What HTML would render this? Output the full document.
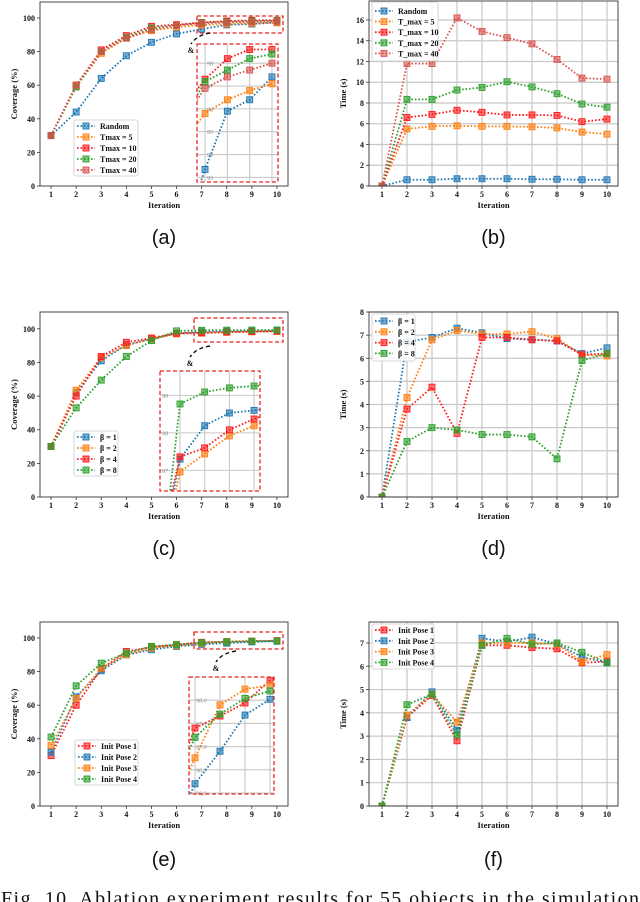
<!DOCTYPE html>
<html><head><meta charset="utf-8"><style>
html,body{margin:0;padding:0;background:#fff;width:640px;height:902px;overflow:hidden}
svg{display:block}
text{font-family:"Liberation Serif",serif}
text.sans{font-family:"Liberation Sans",sans-serif}
</style></head><body>
<svg id="fig" width="640" height="902" viewBox="0 0 640 902" xmlns="http://www.w3.org/2000/svg" style="overflow:hidden"></svg>
<script>
// ---------- data ----------
const iters = [1,2,3,4,5,6,7,8,9,10];
// (a) coverage vs Tmax
const aNames = ["Random","Tmax = 5","Tmax = 10","Tmax = 20","Tmax = 40"];
const aRandom = [30,44,64,77.5,85.5,90.5,93.35,95.9,96.4,97.4];
const aT5 = [30,59,79,88,92.5,94.5,95.8,96.4,96.8,97.1];
const aT10 = [30,60,81,89.5,95,96,97.3,98.2,98.6,98.6];
const aT20 = [30,59,80,88.5,94,95.5,97.2,97.7,98.2,98.4];
const aT40 = [30,60,80,88,93,95.5,96.9,97.4,97.7,98.0];
// (b) time vs Tmax
const bNames = ["Random","T_max = 5","T_max = 10","T_max = 20","T_max = 40"];
const bRandom = [0,0.6,0.6,0.7,0.7,0.7,0.65,0.65,0.6,0.6];
const bT5 = [0,5.5,5.75,5.8,5.75,5.75,5.7,5.6,5.2,5.0];
const bT10 = [0,6.6,6.9,7.3,7.1,6.85,6.85,6.8,6.2,6.45];
const bT20 = [0,8.35,8.35,9.25,9.5,10.05,9.55,8.9,7.9,7.6];
const bT40 = [0,11.8,11.8,16.2,14.9,14.3,13.7,12.2,10.4,10.3];
// (c) coverage vs beta
const cNames = ["β = 1","β = 2","β = 4","β = 8"];
const cB1 = [30,62,81,90.5,94,97.3,98.19,98.53,98.6,98.7];
const cB2 = [30,63.5,83,90,94,96.96,97.44,97.92,98.19,98.4];
const cB4 = [30,60,83.5,92,94.5,97.36,97.6,98.08,98.37,98.6];
const cB8 = [30,53,69.5,83.5,93,98.77,99.09,99.2,99.25,99.3];
// (d) time vs beta
const dNames = ["β = 1","β = 2","β = 4","β = 8"];
const dB1 = [0,6.7,6.9,7.3,7.1,6.85,6.8,6.75,6.2,6.45];
const dB2 = [0,4.3,6.8,7.2,7.05,7.05,7.15,6.85,6.15,6.1];
const dB4 = [0,3.8,4.75,2.75,6.9,6.9,6.8,6.75,6.15,6.2];
const dB8 = [0,2.4,3.0,2.9,2.7,2.7,2.6,1.65,5.9,6.2];
// (e) coverage vs init pose
const eNames = ["Init Pose 1","Init Pose 2","Init Pose 3","Init Pose 4"];
const eP1 = [30,60,81.5,92,94.5,96,97.4,97.66,97.94,98.43];
const eP2 = [32,65,80.5,90,93,95,96.2,96.9,97.68,98.02];
const eP3 = [36,64,82,90,94,95.5,96.76,97.9,98.24,98.32];
const eP4 = [41,71.5,85,91,95,96,97.2,97.7,98.04,98.2];
// (f) time vs init pose
const fNames = ["Init Pose 1","Init Pose 2","Init Pose 3","Init Pose 4"];
const fP1 = [0,3.8,4.75,2.8,6.9,6.9,6.8,6.75,6.15,6.2];
const fP2 = [0,3.8,4.9,3.25,7.2,7.05,7.25,6.95,6.4,6.15];
const fP3 = [0,3.9,4.8,3.6,7.0,7.0,7.0,6.95,6.2,6.5];
const fP4 = [0,4.35,4.8,3.05,6.9,7.2,6.95,7.0,6.6,6.15];
const covTicks = [0,20,40,60,80,100];
const bTicks = [0,2,4,6,8,10,12,14,16];
const dTicks = [0,1,2,3,4,5,6,7,8];
const fTicks = [0,1,2,3,4,5,6,7];
const aInsetTicks = [93,94,95,96,97,98];
const cInsetTicks = [97,98,99];
const eInsetTicks = [96.0,96.5,97.0,97.5,98.0];

const BLUE="#1f77b4",ORANGE="#ff7f0e",RED="#ff1a1a",GREEN="#2ca02c",IRED="#d9534f";
const NS="http://www.w3.org/2000/svg";
const svg=document.getElementById('fig');
function mk(tag,attrs,parent){const e=document.createElementNS(NS,tag);for(const k in attrs)e.setAttribute(k,attrs[k]);(parent||svg).appendChild(e);return e;}
let clipId=0;

function drawSeries(g,xs,ys,vals,color,name,ms){
  const pts=iters.map((it,i)=>xs(it)+","+ys(vals[i])).join(" ");
  const pl=mk('polyline',{points:pts,fill:"none",stroke:color,"stroke-width":1.8,"stroke-dasharray":"1.6 1.9"},g);
  
  
  iters.forEach((it,i)=>{
    const r=mk('rect',{x:xs(it)-ms/2,y:ys(vals[i])-ms/2,width:ms,height:ms,fill:color,"fill-opacity":0.6,stroke:color,"stroke-width":0.9},g);
    
    
  });
}

function panel(c){
  const g=mk('g',{});
  
  
  const xs=v=>c.px0+(v-c.xmin)/(c.xmax-c.xmin)*(c.px1-c.px0);
  const ys=v=>c.py1-(v-c.ymin)/(c.ymax-c.ymin)*(c.py1-c.py0);
  if(c.grid){
    iters.forEach(it=>{const l=mk('line',{x1:xs(it),x2:xs(it),y1:c.py0,y2:c.py1,stroke:"#c8c8c8","stroke-width":1.2},g);
      });
    c.yticks.forEach(t=>{const l=mk('line',{x1:c.px0,x2:c.px1,y1:ys(t),y2:ys(t),stroke:"#c8c8c8","stroke-width":1.2},g);
      });
  }
  const cid='clip'+(clipId++);
  const cp=mk('clipPath',{id:cid},g);
  mk('rect',{x:c.px0,y:c.py0,width:c.px1-c.px0,height:c.py1-c.py0},cp);
  const sg=mk('g',{"clip-path":"url(#"+cid+")"},g);
  
  
  c.series.forEach(s=>drawSeries(sg,xs,ys,s.vals,s.color,s.key,6));
  const fr=mk('rect',{x:c.px0,y:c.py0,width:c.px1-c.px0,height:c.py1-c.py0,fill:"none",stroke:"#333","stroke-width":0.9},g);
  
  
  iters.forEach(it=>{
    mk('line',{x1:xs(it),x2:xs(it),y1:c.py1,y2:c.py1+3,stroke:"#333","stroke-width":0.8},g);
    const t=mk('text',{x:xs(it),y:c.py1+11,"font-size":8,"font-weight":"bold","text-anchor":"middle",fill:"#111"},g);
    t.textContent=it;
    
    
  });
  c.yticks.forEach(v=>{
    mk('line',{x1:c.px0-3,x2:c.px0,y1:ys(v),y2:ys(v),stroke:"#333","stroke-width":0.8},g);
    const t=mk('text',{x:c.px0-5,y:ys(v)+3,"font-size":8,"font-weight":"bold","text-anchor":"end",fill:"#111"},g);
    t.textContent=v;
    
    
  });
  const xl=mk('text',{x:(c.px0+c.px1)/2,y:c.py1+22,"font-size":8.5,"font-weight":"bold","text-anchor":"middle",fill:"#111"},g);
  xl.textContent="Iteration";
  
  
  const yx=c.px0-23, yy=(c.py0+c.py1)/2;
  const yl=mk('text',{x:yx,y:yy,"font-size":8.5,"font-weight":"bold","text-anchor":"middle",fill:"#111",transform:"rotate(-90 "+yx+" "+yy+")"},g);
  yl.textContent=c.ylabel;
  
  
  if(c.inset){
    const I=c.inset;
    const ig=mk('g',{},g);
    
    
    const ixs=v=>I.x0+(v-I.xmin)/(I.xmax-I.xmin)*(I.x1-I.x0);
    const iys=v=>I.y1-(v-I.ymin)/(I.ymax-I.ymin)*(I.y1-I.y0);
    mk('rect',{x:I.x0,y:I.y0,width:I.x1-I.x0,height:I.y1-I.y0,fill:"#fff"},ig);
    iters.forEach(it=>{if(it>I.xmin&&it<I.xmax){mk('line',{x1:ixs(it),x2:ixs(it),y1:I.y0,y2:I.y1,stroke:"#c8c8c8","stroke-width":1.1},ig);}});
    I.ticks.forEach(v=>{
      mk('line',{x1:I.x0,x2:I.x1,y1:iys(v),y2:iys(v),stroke:"#c8c8c8","stroke-width":1.1},ig);
      const t=mk('text',{x:I.labelX,y:iys(v)+2.5,"font-size":6,fill:"#888","font-style":"italic"},ig);
      t.textContent=I.fmt?v.toFixed(1):v;
      
      
    });
    const icid='clip'+(clipId++);
    const icp=mk('clipPath',{id:icid},ig);
    mk('rect',{x:I.x0,y:I.y0,width:I.x1-I.x0,height:I.y1-I.y0},icp);
    const isg=mk('g',{"clip-path":"url(#"+icid+")"},ig);
    
    
    c.series.forEach(s=>drawSeries(isg,ixs,iys,s.vals,s.color,'inset-'+s.key,6));
    const ib=mk('rect',{x:I.x0,y:I.y0,width:I.x1-I.x0,height:I.y1-I.y0,fill:"none",stroke:"#ee2222","stroke-width":1.3,"stroke-dasharray":"4 2.5"},ig);
    
    
    const sb=mk('rect',{x:I.sx0,y:I.sy0,width:I.sx1-I.sx0,height:I.sy1-I.sy0,fill:"none",stroke:"#ee2222","stroke-width":1.3,"stroke-dasharray":"4 2.5"},g);
    
    
    const ar=mk('path',{d:"M"+I.ax0+" "+I.ay0+" Q"+(I.ax1+6)+" "+(I.ay0+2)+" "+I.ax1+" "+I.ay1,fill:"none",stroke:"#111","stroke-width":1.4,"stroke-dasharray":"4 3"},g);
    
    
    const gl=mk('text',{x:I.ax1,y:I.ay1+9,"font-size":8,"font-weight":"bold","text-anchor":"middle",fill:"#111"},g);
    gl.textContent="&";
    
    
  }
  const L=c.legend;
  const lg=mk('g',{},g);
  
  
  mk('rect',{x:L.x,y:L.y,width:L.w,height:L.h,fill:"#fff","fill-opacity":0.85,stroke:"#ccc","stroke-width":0.8,rx:2},lg);
  c.series.forEach((s,i)=>{
    const yy2=L.y+L.first+i*L.dy;
    const e=mk('g',{},lg);
    
    
    mk('line',{x1:L.x+3,x2:L.x+21,y1:yy2,y2:yy2,stroke:s.color,"stroke-width":1.8,"stroke-dasharray":"1.6 1.9"},e);
    mk('rect',{x:L.x+9,y:yy2-3,width:6,height:6,fill:s.color,"fill-opacity":0.6,stroke:s.color,"stroke-width":0.9},e);
    const t=mk('text',{x:L.x+26,y:yy2+3,"font-size":8,"font-weight":"bold",fill:"#111"},e);
    t.textContent=s.name;
  });
  const pl=mk('text',{x:(c.px0+c.px1)/2,y:c.labelY,"font-size":20,"text-anchor":"middle",fill:"#111","class":"sans"},g);
  pl.textContent=c.label;
  
  
}

const L0=40,L1=288,R0=369,R1=618;
panel({id:'panel-a',px0:L0,px1:L1,py0:2,py1:186,xmin:0.56,xmax:10.44,ymin:0,ymax:109.5,yticks:covTicks,grid:false,ylabel:"Coverage (%)",label:"(a)",labelY:244,
 series:[{key:'random',name:aNames[0],color:BLUE,vals:aRandom},{key:'tmax5',name:aNames[1],color:ORANGE,vals:aT5},{key:'tmax10',name:aNames[2],color:RED,vals:aT10},{key:'tmax20',name:aNames[3],color:GREEN,vals:aT20},{key:'tmax40',name:aNames[4],color:IRED,vals:aT40}],
 legend:{x:74,y:120,w:64,h:56,first:6,dy:11},
 inset:{x0:197,x1:278,y0:44,y1:182,xmin:6.64,xmax:10.27,ymin:92.8,ymax:98.84,ticks:aInsetTicks,labelX:207,sx0:197,sx1:283,sy0:16,sy1:33,ax0:210,ay0:33,ax1:191,ay1:44}});
panel({id:'panel-b',px0:R0,px1:R1,py0:1,py1:186,xmin:0.48,xmax:10.44,ymin:0,ymax:17.83,yticks:bTicks,grid:true,ylabel:"Time (s)",label:"(b)",labelY:244,
 series:[{key:'random',name:bNames[0],color:BLUE,vals:bRandom},{key:'tmax5',name:bNames[1],color:ORANGE,vals:bT5},{key:'tmax10',name:bNames[2],color:RED,vals:bT10},{key:'tmax20',name:bNames[3],color:GREEN,vals:bT20},{key:'tmax40',name:bNames[4],color:IRED,vals:bT40}],
 legend:{x:372,y:2,w:66,h:59,first:9,dy:10.6}});
panel({id:'panel-c',px0:L0,px1:L1,py0:312,py1:497,xmin:0.56,xmax:10.44,ymin:0,ymax:110,yticks:covTicks,grid:false,ylabel:"Coverage (%)",label:"(c)",labelY:555,
 series:[{key:'beta1',name:cNames[0],color:BLUE,vals:cB1},{key:'beta2',name:cNames[1],color:ORANGE,vals:cB2},{key:'beta4',name:cNames[2],color:RED,vals:cB4},{key:'beta8',name:cNames[3],color:GREEN,vals:cB8}],
 legend:{x:74,y:431,w:44,h:45,first:6,dy:11},
 inset:{x0:160,x1:260,y0:371,y1:491,xmin:5.19,xmax:9.24,ymin:96.45,ymax:99.65,ticks:cInsetTicks,labelX:162,sx0:194,sx1:283,sy0:318,sy1:342,ax0:210,ay0:346,ax1:190,ay1:357}});
panel({id:'panel-d',px0:R0,px1:R1,py0:312,py1:497,xmin:0.48,xmax:10.44,ymin:0,ymax:8,yticks:dTicks,grid:true,ylabel:"Time (s)",label:"(d)",labelY:555,
 series:[{key:'beta1',name:dNames[0],color:BLUE,vals:dB1},{key:'beta2',name:dNames[1],color:ORANGE,vals:dB2},{key:'beta4',name:dNames[2],color:RED,vals:dB4},{key:'beta8',name:dNames[3],color:GREEN,vals:dB8}],
 legend:{x:372,y:314,w:43,h:47,first:7,dy:10.8}});
panel({id:'panel-e',px0:L0,px1:L1,py0:622,py1:806,xmin:0.56,xmax:10.44,ymin:0,ymax:109.5,yticks:covTicks,grid:false,ylabel:"Coverage (%)",label:"(e)",labelY:866,
 series:[{key:'pose1',name:eNames[0],color:RED,vals:eP1},{key:'pose2',name:eNames[1],color:BLUE,vals:eP2},{key:'pose3',name:eNames[2],color:ORANGE,vals:eP3},{key:'pose4',name:eNames[3],color:GREEN,vals:eP4}],
 legend:{x:75,y:740,w:63,h:45,first:6,dy:11},
 inset:{x0:189,x1:274,y0:677,y1:794,xmin:6.76,xmax:10.16,ymin:95.98,ymax:98.5,ticks:eInsetTicks,fmt:true,labelX:196,sx0:194,sx1:283,sy0:632,sy1:649,ax0:236,ay0:651,ax1:216,ay1:662}});
panel({id:'panel-f',px0:R0,px1:R1,py0:622,py1:806,xmin:0.48,xmax:10.44,ymin:0,ymax:7.9,yticks:fTicks,grid:true,ylabel:"Time (s)",label:"(f)",labelY:866,
 series:[{key:'pose1',name:fNames[0],color:RED,vals:fP1},{key:'pose2',name:fNames[1],color:BLUE,vals:fP2},{key:'pose3',name:fNames[2],color:ORANGE,vals:fP3},{key:'pose4',name:fNames[3],color:GREEN,vals:fP4}],
 legend:{x:372,y:624,w:62,h:45,first:6,dy:10.8}});

const cap=mk('text',{x:1,y:905,"font-size":20,fill:"#111",textLength:638,lengthAdjust:"spacing"});
cap.textContent="Fig. 10.   Ablation experiment results for 55 objects in the simulation";


</script>
</body></html>
